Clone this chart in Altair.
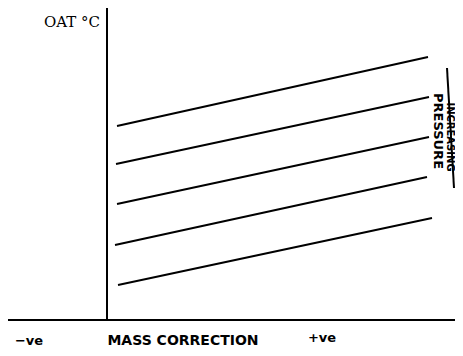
import altair as alt
import pandas as pd

# Five OAT lines (mass correction vs OAT), increasing pressure upward
series = ["P1", "P2", "P3", "P4", "P5"]
x_start = [0.10, 0.09, 0.10, 0.08, 0.11]
y_start = [1.94, 1.56, 1.16, 0.75, 0.35]
x_end = [3.21, 3.22, 3.22, 3.20, 3.25]
y_end = [2.63, 2.23, 1.83, 1.43, 1.02]

# Pressure indicator line
p_x = [3.40]
p_y = [2.52]
p_x2 = [3.47]
p_y2 = [1.32]

X_DOM = [-0.99, 3.48]
Y_DOM = [-0.28, 3.12]

xs = alt.Scale(domain=X_DOM, nice=False, zero=False)
ys = alt.Scale(domain=Y_DOM, nice=False, zero=False)


def rules(df):
    return alt.Chart(df).mark_rule(color="black", strokeWidth=2).encode(
        x=alt.X("x:Q", scale=xs, axis=None),
        y=alt.Y("y:Q", scale=ys, axis=None),
        x2="x2:Q",
        y2="y2:Q",
    )


lines = rules(pd.DataFrame({"s": series, "x": x_start, "y": y_start, "x2": x_end, "y2": y_end}))
axes = rules(pd.DataFrame({
    "x": [0.0, X_DOM[0]],
    "y": [0.0, 0.0],
    "x2": [0.0, X_DOM[1]],
    "y2": [Y_DOM[1], 0.0],
}))
press = rules(pd.DataFrame({"x": p_x, "y": p_y, "x2": p_x2, "y2": p_y2}))


def label(txt, x, y, font, size, weight="bold", angle=0):
    return alt.Chart(pd.DataFrame({"t": [txt], "x": [x], "y": [y]})).mark_text(
        font=font, fontSize=size, fontWeight=weight, color="black",
        align="center", baseline="middle", angle=angle,
    ).encode(
        x=alt.X("x:Q", scale=xs, axis=None),
        y=alt.Y("y:Q", scale=ys, axis=None),
        text="t:N",
    )


y_title = ["OAT °C"]
x_title = ["MASS CORRECTION"]
x_ends = ["\u2212ve", "+ve"]
press_lab = ["PRESSURE", "INCREASING"]

texts = [
    label(y_title[0], -0.35, 2.98, "DejaVu Serif", 15, "normal"),
    label(x_title[0], 0.76, -0.21, "DejaVu Sans", 14),
    label(x_ends[0], -0.78, -0.21, "DejaVu Sans", 13),
    label(x_ends[1], 2.15, -0.18, "DejaVu Sans", 13),
    label(press_lab[0], 3.31, 1.89, "DejaVu Sans", 13, "bold", 90),
    label(press_lab[1], 3.43, 1.83, "DejaVu Sans", 10, "bold", 90),
]

chart = alt.layer(axes, lines, press, *texts).properties(
    width=447, height=340,
    autosize=alt.AutoSizeParams(type="none"),
    padding=0,
    background="white",
).configure_view(stroke=None)

chart.save("out.html", embed_options={"renderer": "svg", "actions": False})
